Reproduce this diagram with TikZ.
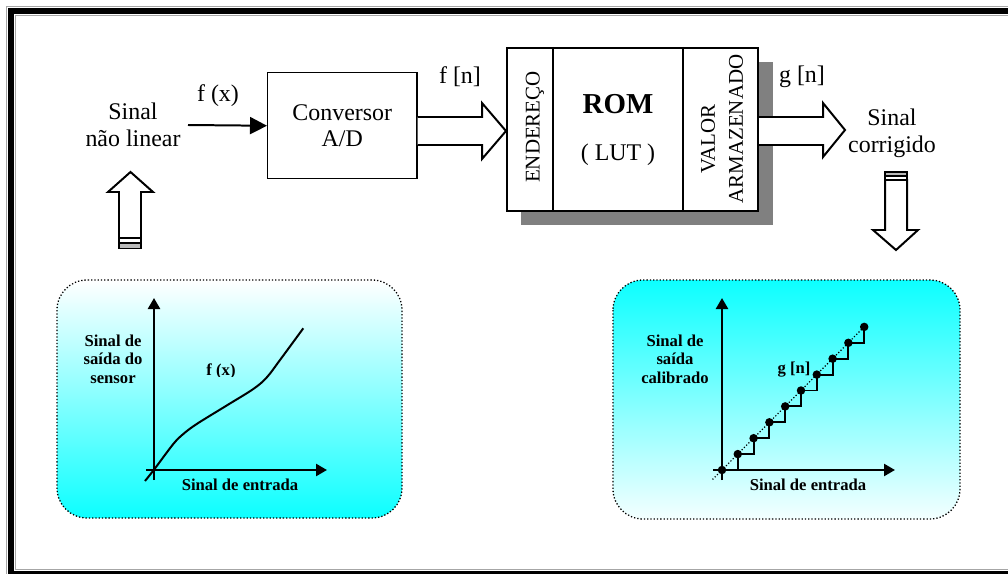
\documentclass[tikz,border=0pt]{standalone}
\usepackage{fontspec}
\setmainfont{Liberation Serif}
\usetikzlibrary{arrows.meta}

\definecolor{aqua}{RGB}{12,255,255}
\definecolor{aquapale}{RGB}{244,255,255}
\definecolor{shadowgray}{RGB}{128,128,128}

\tikzset{
  big/.style={font=\fontsize{24}{27}\selectfont, align=center, inner sep=0pt},
  caps/.style={font=\fontsize{21}{27}\selectfont, inner sep=0pt},
  small/.style={font=\bfseries\fontsize{16.7}{18.5}\selectfont, align=center, inner sep=0pt},
  hollow/.style={draw, line width=2, fill=white, line join=miter},
  tail/.style={draw, line width=1.2},
  panel/.style={draw, dotted, line width=1.3, rounded corners=30bp},
  axis/.style={line width=2.5, -{Triangle[length=11bp,width=12bp]}},
  dotmark/.style={circle, fill=black, inner sep=0pt, minimum size=8.5bp},
  framegray/.style={gray!70, line width=1bp, line join=miter},
  frameblack/.style={black, line width=6bp, line join=miter}
}

\begin{document}
\begin{tikzpicture}[x=1bp,y=-1bp]
\useasboundingbox (0,0) rectangle (1008,574);
\clip (0,0) rectangle (1008,574);

% outer frame: left, top and bottom sides only
\draw[framegray] (1008,6.5) -- (6.5,6.5) -- (6.5,574);
\draw[frameblack] (1008,11) -- (11,11) -- (11,573.5) -- (1008,573.5);
\draw[framegray] (1008,15.5) -- (15.5,15.5) -- (15.5,569.5) -- (1008,569.5);

% input signal label and A/D converter
\node[big] (src) at (133,124.5) {Sinal\\não linear};
\node[draw, line width=1.5, minimum width=149bp, minimum height=106bp, anchor=north west,
      big] (conv) at (267,72) {Conversor\\A/D};
\coordinate (fxstart) at (188,125);
\draw[line width=2, -{Triangle[length=17bp,width=17bp]}] (fxstart) -- (conv.west);
\node[big] (fx) at (218,96) {f (x)};

% ROM with drop shadow
\fill[shadowgray] (521,62) rectangle (773,225);
\node[draw, line width=2, fill=white, minimum width=251bp, minimum height=163bp,
      anchor=north west] (rom) at (506,47) {};
\draw[line width=1.5] (553,47) -- (553,210);
\draw[line width=1.5] (683,47) -- (683,210);
\node[font=\bfseries\fontsize{29}{30}\selectfont, inner sep=0pt] (romt) at (618,104) {ROM};
\node[big] (lut) at (618,155) {( LUT )};
\node[caps, rotate=90] (ender) at (535,127) {ENDEREÇO};
\node[caps, rotate=90] (valor) at (708,139) {VALOR};
\node[caps, rotate=90] (armaz) at (736,129) {ARMAZENADO};

% wide data arrows f[n] and g[n]
\draw[hollow] (conv.east |- 0,117) -- (482,117) -- (482,103) -- (rom.west |- 0,131)
      -- (482,159) -- (482,145) -- (conv.east |- 0,145);
\node[big] (fn) at (460,77) {f [n]};
\draw[hollow] (rom.east |- 0,117) -- (823,117) -- (823,103) -- (845,130)
      -- (823,157) -- (823,145) -- (rom.east |- 0,145);
\node[big] (gn) at (802,77) {g [n]};
\node[big] (dst) at (892,133) {Sinal\\corrigido};

% striped block arrows
\draw[hollow] (119,238) -- (119,192) -- (108,192) -- (130.5,172) -- (153,192)
      -- (141,192) -- (141,238) -- cycle;
\draw[tail, fill=white] (119,238) rectangle (141,242.5);
\draw[tail, fill=gray!55] (119,243.5) rectangle (141,248.5);

\draw[hollow] (885,180) -- (907,180) -- (907,230) -- (918,230) -- (896,250)
      -- (873,230) -- (885,230) -- cycle;
\draw[tail, fill=gray!55] (885,172) rectangle (907,176);
\draw[tail, fill=white] (885,176) rectangle (907,180);

% left panel: sensor response
\path[panel, top color=white, bottom color=aqua] (57,280) rectangle (402,518);
\draw[axis] (154,480) -- (154,298);
\draw[axis] (146,470) -- (327,470);
\draw[line width=2, smooth, tension=0.55] plot coordinates {
  (145,481) (154.3,469.3) (173.3,444) (183.3,434) (196.7,424) (226.7,405.5)
  (253.3,389) (266.7,377.5) (280,360) (303.3,328.3)};
\node[small] (ylab1) at (113,359) {Sinal de\\saída do\\sensor};
\begin{scope}
  \clip (150,300) rectangle (320,376);
  \node[small] (fxl) at (221,371) {f (x)};
\end{scope}
\node[small, anchor=base] (xlab1) at (240,490) {Sinal de entrada};

% right panel: calibrated staircase
\path[panel, top color=aqua, bottom color=aquapale] (613,280) rectangle (960,519);
\draw[axis] (722,480) -- (722,298);
\draw[axis] (713,470) -- (895,470);
\draw[dotted, line width=1.2] (712.5,479.5) -- (866,325);
\foreach \k in {0,...,9} {
  \coordinate (p\k) at ({722+15.8*\k},{470-15.9*\k});
}
\draw[line width=2, line join=miter]
  (p0) -| (p1) -| (p2) -| (p3) -| (p4) -| (p5) -| (p6) -| (p7) -| (p8) -| (p9);
\foreach \k in {0,...,9} {
  \node[dotmark] (d\k) at (p\k) {};
}
\node[small] (ylab2) at (675,359) {Sinal de\\saída\\calibrado};
\node[small] (gnl) at (794,370) {g [n]};
\node[small, anchor=base] (xlab2) at (808,490) {Sinal de entrada};
\end{tikzpicture}
\end{document}
